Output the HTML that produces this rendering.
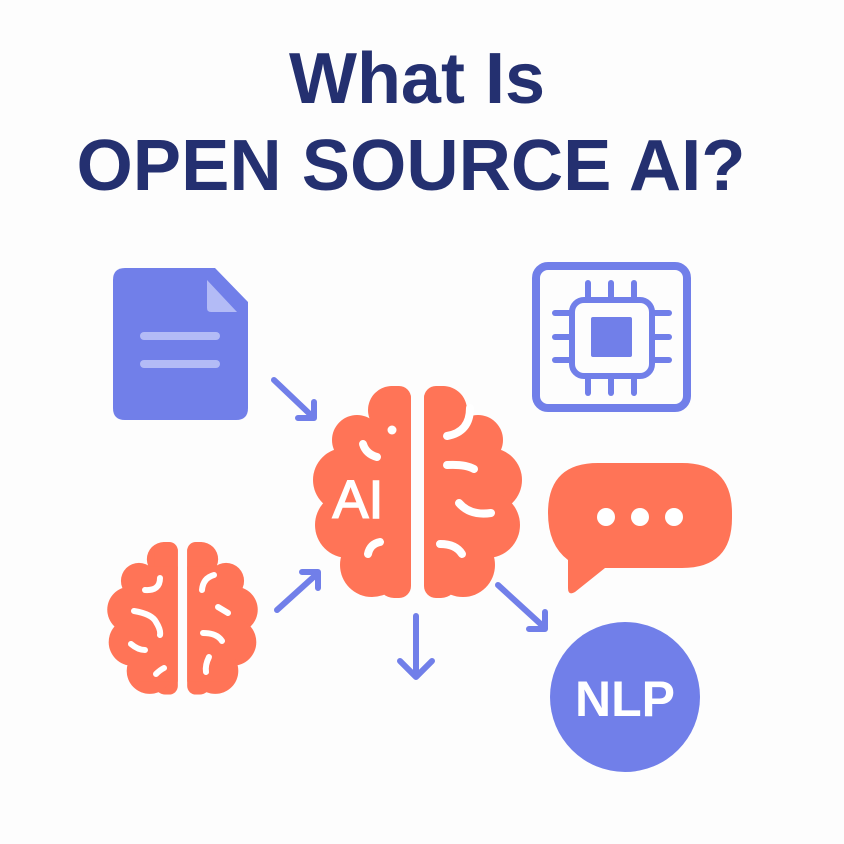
<!DOCTYPE html>
<html><head><meta charset="utf-8"><style>
html,body{margin:0;padding:0;background:#fdfdfd;}
svg{display:block}
</style></head><body>
<svg width="844" height="844" viewBox="0 0 844 844" xmlns="http://www.w3.org/2000/svg">
<defs>
<clipPath id="lc"><rect x="250" y="386" width="161" height="212" rx="12"/></clipPath>
<g id="half">
 <g clip-path="url(#lc)" fill="#FF7457">
  <circle cx="392" cy="410" r="24"/>
  <rect x="378" y="386" width="42" height="212" rx="16"/>
  <circle cx="357" cy="440" r="25"/>
  <circle cx="345" cy="480" r="32"/>
  <circle cx="348" cy="525" r="33"/>
  <circle cx="372" cy="565" r="32"/>
  <rect x="345" y="420" width="70" height="160"/>
 </g>
</g>
<g id="brain">
 <use href="#half"/>
 <use href="#half" transform="translate(835,0) scale(-1,1)"/>
</g>
</defs>

<text x="417" y="103" text-anchor="middle" font-family="Liberation Sans, sans-serif" font-weight="bold" font-size="72" fill="#243070" textLength="256" lengthAdjust="spacingAndGlyphs">What Is</text>
<text x="411" y="190" text-anchor="middle" font-family="Liberation Sans, sans-serif" font-weight="bold" font-size="72" fill="#243070" textLength="669" lengthAdjust="spacingAndGlyphs">OPEN SOURCE AI?</text>

<!-- document -->
<path d="M125 268 H215 L248 302 V408 Q248 420 236 420 H125 Q113 420 113 408 V280 Q113 268 125 268 Z" fill="#717FE9"/>
<path d="M207 280 L237 312 H211 Q207 312 207 308 Z" fill="#B3BBF6"/>
<line x1="144" y1="336" x2="216" y2="336" stroke="#B3BBF6" stroke-width="8" stroke-linecap="round"/>
<line x1="144" y1="364" x2="216" y2="364" stroke="#B3BBF6" stroke-width="8" stroke-linecap="round"/>

<!-- chip -->
<rect x="536" y="266" width="151" height="142" rx="12" fill="none" stroke="#717FE9" stroke-width="8"/>
<g stroke="#717FE9" stroke-width="6" stroke-linecap="round" fill="none">
 <rect x="572" y="300" width="80" height="76" rx="12"/>
 <line x1="588" y1="283" x2="588" y2="298"/><line x1="611" y1="283" x2="611" y2="298"/><line x1="634" y1="283" x2="634" y2="298"/>
 <line x1="588" y1="378" x2="588" y2="393"/><line x1="611" y1="378" x2="611" y2="393"/><line x1="634" y1="378" x2="634" y2="393"/>
 <line x1="555" y1="313" x2="570" y2="313"/><line x1="555" y1="337" x2="570" y2="337"/><line x1="555" y1="360" x2="570" y2="360"/>
 <line x1="654" y1="313" x2="669" y2="313"/><line x1="654" y1="337" x2="669" y2="337"/><line x1="654" y1="360" x2="669" y2="360"/>
</g>
<rect x="591" y="317" width="41" height="40" rx="2" fill="#717FE9"/>

<!-- arrows -->
<g stroke="#717FE9" stroke-width="6" stroke-linecap="round" stroke-linejoin="round" fill="none">
 <path d="M274 380 L314 418 M314 402 V418 H298"/>
 <path d="M277 610 L318 573 M302 572 H318 V588"/>
 <path d="M416 616 V676 M400 661 L416 677 L432 661"/>
 <path d="M498 585 L545 628 M545 612 V629 H529"/>
</g>

<!-- big brain -->
<use href="#brain"/>
<g stroke="#fff" stroke-width="8" stroke-linecap="round" fill="none">
 <path d="M363 444 Q366 454 377 457"/>
 <path d="M368 554 Q370 544 380 542"/>
 <path d="M447 436 Q470 432 470 408"/>
 <path d="M447 465 Q465 464 474 469"/>
 <path d="M459 503 Q470 516 491 513"/>
 <path d="M440 544 Q456 544 462 554"/>
</g>
<circle cx="392" cy="430" r="4.5" fill="#fff"/>
<text x="358" y="518" text-anchor="middle" font-family="Liberation Sans, sans-serif" font-size="54" fill="#fff" stroke="#fff" stroke-width="1.5">AI</text>

<!-- small brain -->
<use href="#brain" transform="translate(182.5,542) scale(0.72) translate(-417.5,-386)"/>
<g stroke="#fff" stroke-width="6" stroke-linecap="round" fill="none">
 <path d="M145 590 Q160 591 160 578"/>
 <path d="M134 611 Q152 614 156 622 Q161 630 160 635"/>
 <path d="M131 644 Q138 650 145 650"/>
 <path d="M156 674 Q160 670 164 668"/>
 <path d="M202 590 Q203 578 214 575"/>
 <path d="M218 607 L228 613"/>
 <path d="M203 633 Q217 633 222 641"/>
 <path d="M206 672 Q205 665 209 657"/>
</g>

<!-- speech bubble -->
<path d="M598 463 H682 Q732 463 732 513 V518 Q732 568 682 568 H605 L575 592 Q568 596 568 588 V560 Q548 545 548 513 Q548 463 598 463 Z" fill="#FF7457"/>
<circle cx="606" cy="517" r="9" fill="#fff"/>
<circle cx="640" cy="517" r="9" fill="#fff"/>
<circle cx="674" cy="517" r="9" fill="#fff"/>

<!-- NLP -->
<circle cx="625" cy="697" r="75" fill="#717FE9"/>
<text x="625" y="716" text-anchor="middle" font-family="Liberation Sans, sans-serif" font-weight="bold" font-size="50" fill="#fff">NLP</text>
</svg>
</body></html>
